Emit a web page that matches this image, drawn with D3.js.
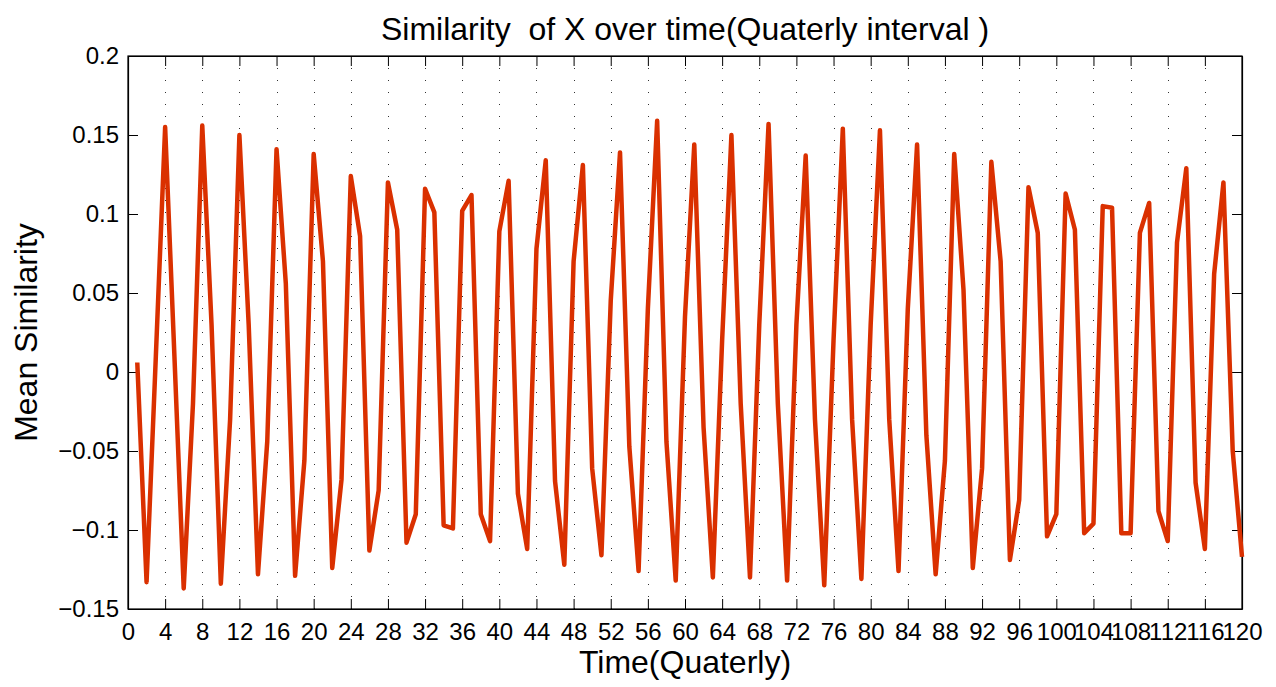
<!DOCTYPE html>
<html>
<head>
<meta charset="utf-8">
<script src="https://cdn.jsdelivr.net/npm/d3@7"></script>
<style>
  body { margin: 0; background: #fff; }
  svg { display: block; font-family: "Liberation Sans", Arial, Helvetica, sans-serif; }
</style>
</head>
<body>
<svg id="chart" width="1276" height="687"></svg>
<script>
// quarter index 1..120
var quarters = d3.range(1, 121);

// mean similarity
var similarity = [
   0.006, -0.133,  0.010,  0.155,  0.010, -0.137, -0.020,  0.156,  0.030, -0.134,
  -0.030,  0.150,  0.030, -0.128, -0.044,  0.141,  0.056, -0.129, -0.056,  0.138,
   0.070, -0.124, -0.068,  0.124,  0.086, -0.113, -0.075,  0.120,  0.090, -0.108,
  -0.090,  0.116,  0.101, -0.097, -0.099,  0.102,  0.112, -0.090, -0.107,  0.089,
   0.121, -0.077, -0.112,  0.078,  0.134, -0.069, -0.122,  0.070,  0.131, -0.061,
  -0.116,  0.045,  0.139, -0.047, -0.126,  0.040,  0.159, -0.044, -0.132,  0.035,
   0.144, -0.035, -0.130,  0.020,  0.150, -0.020, -0.130,  0.030,  0.157, -0.020,
  -0.132,  0.030,  0.137, -0.030, -0.135,  0.020,  0.154, -0.030, -0.131,  0.030,
   0.153, -0.030, -0.126,  0.040,  0.144, -0.040, -0.128, -0.056,  0.138,  0.052,
  -0.124, -0.061,  0.133,  0.070, -0.119, -0.081,  0.117,  0.088, -0.104, -0.090,
   0.113,  0.090, -0.102, -0.096,  0.105,  0.104, -0.102, -0.102,  0.088,  0.107,
  -0.088, -0.107,  0.082,  0.129, -0.070, -0.112,  0.062,  0.120, -0.050, -0.117
];

var x_ticks = d3.range(0, 121, 4);
var y_ticks = [-0.15, -0.1, -0.05, 0, 0.05, 0.1, 0.15, 0.2];

var chart_title = "Similarity  of X over time(Quaterly interval )";
var x_label = "Time(Quaterly)";
var y_label = "Mean Similarity";

function draw_chart() {
    var plot_left = 128, plot_right = 1242, plot_top = 56, plot_bottom = 609;
    var tick_len = 10;

    var svg = d3.select("#chart");

    var x = d3.scaleLinear().domain([0, 120]).range([plot_left, plot_right]);
    var y = d3.scaleLinear().domain([-0.15, 0.2]).range([plot_bottom, plot_top]);

    // vertical dotted grid
    svg.append("g")
        .selectAll("line")
        .data(x_ticks.filter(d => d > 0 && d < 120))
        .enter().append("line")
            .attr("x1", d => Math.round(x(d)) + 0.5)
            .attr("x2", d => Math.round(x(d)) + 0.5)
            .attr("y1", plot_top)
            .attr("y2", plot_bottom)
            .attr("stroke", "#333")
            .attr("stroke-width", 1)
            .attr("stroke-dasharray", "1,11");

    function y_format(d) {
        if (d === 0) return "0";
        return String(+d.toFixed(2)).replace("-", "\u2212");
    }

    svg.append("g")
        .attr("transform", "translate(0," + plot_bottom + ")")
        .call(d3.axisBottom(x).tickValues(x_ticks).tickSizeInner(-tick_len).tickSizeOuter(0).tickPadding(14));

    svg.append("g")
        .attr("transform", "translate(0," + plot_top + ")")
        .call(d3.axisTop(x).tickValues(x_ticks).tickSizeInner(-tick_len).tickSizeOuter(0).tickFormat(""));

    svg.append("g")
        .attr("transform", "translate(" + plot_left + ",0)")
        .call(d3.axisLeft(y).tickValues(y_ticks).tickSizeInner(-tick_len).tickSizeOuter(0).tickPadding(9).tickFormat(y_format));

    svg.append("g")
        .attr("transform", "translate(" + plot_right + ",0)")
        .call(d3.axisRight(y).tickValues(y_ticks).tickSizeInner(-tick_len).tickSizeOuter(0).tickFormat(""));

    svg.selectAll(".tick line").attr("stroke", "#000");
    svg.selectAll(".domain").attr("stroke", "#000").attr("stroke-width", 1.2);
    svg.selectAll(".tick text")
        .attr("fill", "#000")
        .style("font-size", "24px")
        .style("font-family", "'Liberation Sans', Arial, sans-serif");

    // box
    svg.append("rect")
        .attr("x", plot_left)
        .attr("y", plot_top)
        .attr("width", plot_right - plot_left)
        .attr("height", plot_bottom - plot_top)
        .attr("fill", "none")
        .attr("stroke", "#000")
        .attr("stroke-width", 1.2);

    // the series
    var line = d3.line()
        .x((d, i) => x(quarters[i]))
        .y(d => y(d));

    svg.append("path")
        .datum(similarity)
        .attr("d", line)
        .attr("fill", "none")
        .attr("stroke", "#da3000")
        .attr("stroke-width", 4.5)
        .attr("stroke-linejoin", "round");

    // texts
    svg.append("text")
        .attr("x", (plot_left + plot_right) / 2)
        .attr("y", 40)
        .attr("text-anchor", "middle")
        .style("font-size", "32px")
        .style("white-space", "pre")
        .text(chart_title);

    svg.append("text")
        .attr("x", (plot_left + plot_right) / 2)
        .attr("y", 673)
        .attr("text-anchor", "middle")
        .style("font-size", "32px")
        .text(x_label);

    svg.append("text")
        .attr("transform", "translate(37," + (plot_top + plot_bottom) / 2 + ") rotate(-90)")
        .attr("text-anchor", "middle")
        .style("font-size", "32px")
        .text(y_label);
}

draw_chart();
</script>
</body>
</html>
